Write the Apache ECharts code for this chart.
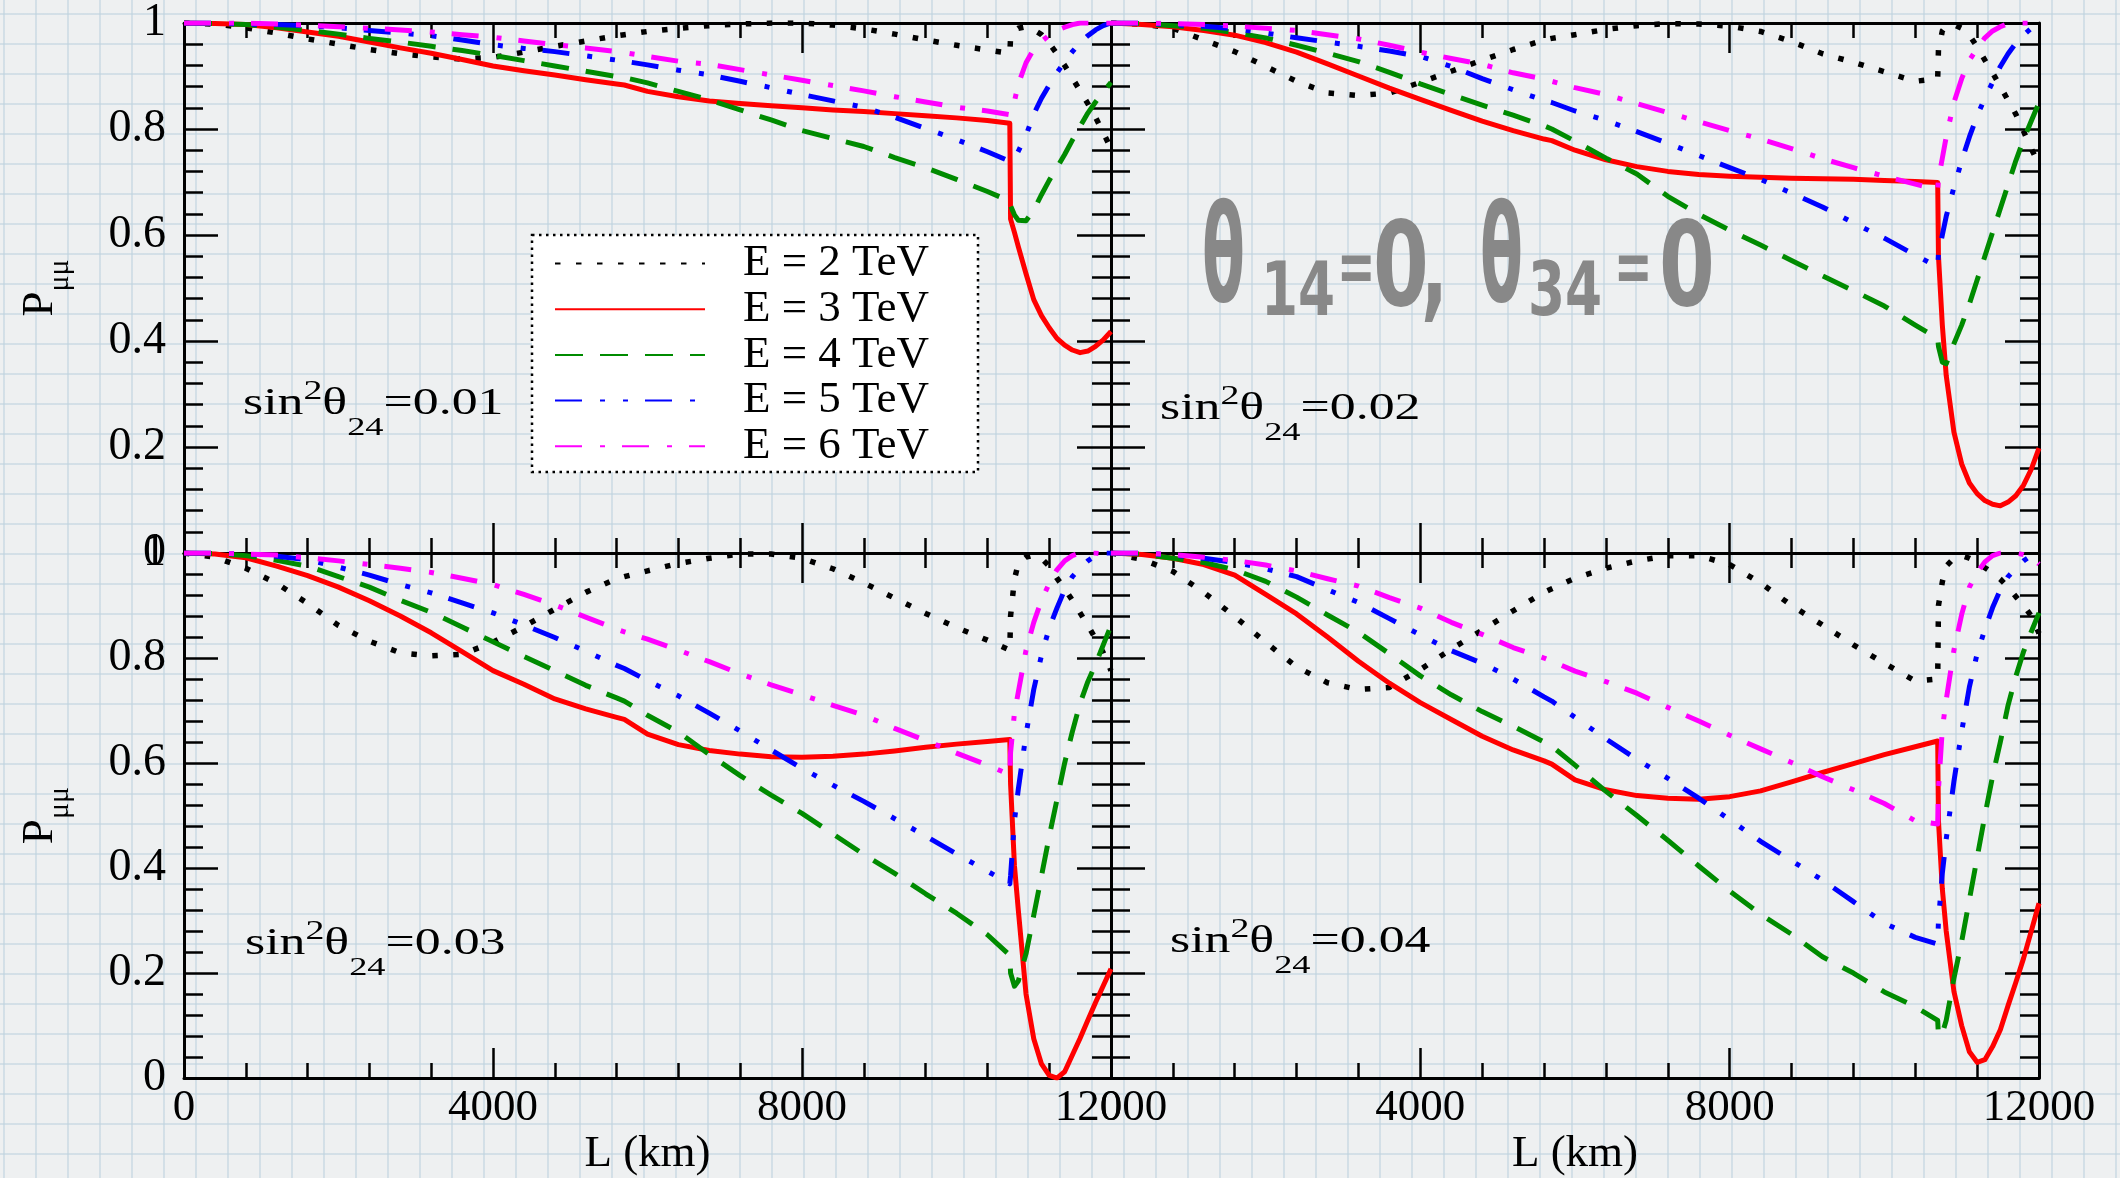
<!DOCTYPE html>
<html>
<head>
<meta charset="utf-8">
<script src="https://cdn.jsdelivr.net/npm/echarts@6/dist/echarts.min.js"></script>
<style>
html,body{margin:0;padding:0;}
body{width:2120px;height:1178px;overflow:hidden;background-color:#eef0f1;
background-image:linear-gradient(to bottom, rgba(190,210,222,0.55) 0, rgba(190,210,222,0.55) 2px, transparent 2px),
linear-gradient(to right, rgba(190,210,222,0.55) 0, rgba(190,210,222,0.55) 2px, transparent 2px);
background-size:32px 30px;background-position:3px 13px;}
#chart{width:2120px;height:1178px;}
</style>
</head>
<body>
<div id="chart"></div>
<script>
// ---------------- data ----------------
const L_KM = [0,400,800,1200,1600,2000,2400,2800,3200,3600,4000,4400,4800,5200,5600,5700,6000,6400,6800,7200,7600,8000,8400,8800,9200,9600,10000,10400,10690,10700,10750,10800,10900,11000,11100,11200,11300,11400,11500,11600,11700,11800,11900,12000];

const SERIES_NAMES = ['E = 2 TeV','E = 3 TeV','E = 4 TeV','E = 5 TeV','E = 6 TeV'];
const PANEL_SIN2 = ['0.01','0.02','0.03','0.04'];
const X_AXIS_TITLE = 'L (km)';
const Y_AXIS_TITLE = ['P','μμ'];
const NOTE_PARTS = ['θ','14','=','0',',','θ','34','=','0'];

// sin^2 theta24 = 0.01
const P_001_E2 = [1,0.998,0.991,0.981,0.970,0.960,0.950,0.942,0.936,0.932,0.935,0.945,0.956,0.966,0.976,0.978,0.984,0.990,0.995,0.998,1.0,1.0,0.996,0.989,0.979,0.968,0.958,0.949,0.943,0.972,0.985,0.990,0.993,0.987,0.978,0.962,0.942,0.920,0.896,0.872,0.848,0.822,0.793,0.763];
const P_001_E3 = [1,0.999,0.997,0.991,0.983,0.975,0.964,0.953,0.943,0.931,0.919,0.910,0.902,0.893,0.885,0.883,0.871,0.861,0.853,0.848,0.844,0.840,0.836,0.833,0.829,0.825,0.821,0.816,0.811,0.630,0.605,0.578,0.527,0.478,0.448,0.425,0.405,0.392,0.383,0.378,0.381,0.390,0.402,0.418];
const P_001_E4 = [1,0.999,0.997,0.992,0.986,0.979,0.971,0.964,0.956,0.948,0.939,0.929,0.919,0.909,0.899,0.897,0.887,0.871,0.855,0.836,0.817,0.797,0.782,0.767,0.746,0.727,0.705,0.682,0.664,0.655,0.638,0.628,0.627,0.647,0.676,0.703,0.727,0.752,0.779,0.805,0.830,0.851,0.870,0.888];
const P_001_E5 = [1,1,0.998,0.997,0.995,0.991,0.986,0.981,0.976,0.968,0.959,0.952,0.946,0.938,0.930,0.928,0.921,0.911,0.902,0.890,0.878,0.865,0.853,0.841,0.822,0.801,0.780,0.757,0.739,0.737,0.745,0.758,0.788,0.828,0.858,0.883,0.906,0.927,0.946,0.963,0.976,0.987,0.995,1.0];
const P_001_E6 = [1,1,1,0.998,0.996,0.993,0.990,0.987,0.983,0.978,0.973,0.966,0.959,0.953,0.946,0.944,0.937,0.928,0.922,0.912,0.902,0.892,0.882,0.872,0.861,0.851,0.841,0.834,0.827,0.830,0.852,0.885,0.925,0.951,0.965,0.977,0.986,0.992,0.997,1.0,1.0,1.0,1.0,1.0];

// sin^2 theta24 = 0.02
const P_002_E2 = [1,0.998,0.990,0.968,0.946,0.918,0.890,0.868,0.863,0.868,0.888,0.909,0.930,0.950,0.968,0.971,0.978,0.988,0.995,0.999,0.998,0.994,0.984,0.965,0.942,0.926,0.908,0.890,0.895,0.950,0.985,0.995,0.997,0.990,0.977,0.955,0.930,0.906,0.880,0.854,0.828,0.796,0.763,0.733];
const P_002_E3 = [1,0.997,0.993,0.986,0.977,0.963,0.945,0.923,0.900,0.877,0.856,0.835,0.815,0.797,0.781,0.778,0.760,0.742,0.729,0.720,0.714,0.711,0.709,0.707,0.706,0.705,0.703,0.701,0.699,0.560,0.430,0.335,0.228,0.168,0.132,0.112,0.099,0.092,0.089,0.096,0.108,0.128,0.158,0.198];
const P_002_E4 = [1,0.999,0.995,0.990,0.982,0.972,0.958,0.943,0.927,0.907,0.885,0.865,0.845,0.826,0.806,0.800,0.777,0.745,0.715,0.673,0.639,0.609,0.581,0.552,0.523,0.495,0.466,0.430,0.405,0.390,0.360,0.357,0.395,0.430,0.470,0.515,0.560,0.605,0.650,0.695,0.740,0.780,0.815,0.850];
const P_002_E5 = [1,1,0.997,0.994,0.989,0.981,0.972,0.964,0.956,0.947,0.937,0.918,0.895,0.874,0.854,0.850,0.834,0.816,0.795,0.773,0.750,0.727,0.705,0.679,0.653,0.623,0.594,0.562,0.540,0.565,0.600,0.635,0.690,0.740,0.785,0.825,0.858,0.888,0.918,0.942,0.962,0.977,0.990,1.0];
const P_002_E6 = [1,1,0.999,0.997,0.994,0.990,0.986,0.978,0.970,0.958,0.945,0.933,0.922,0.906,0.894,0.890,0.878,0.865,0.848,0.831,0.814,0.797,0.781,0.763,0.744,0.727,0.711,0.696,0.686,0.705,0.745,0.785,0.850,0.895,0.930,0.952,0.972,0.985,0.993,0.999,1.0,1.0,1.0,1.0];

// sin^2 theta24 = 0.03
const P_003_E2 = [1,0.992,0.971,0.942,0.904,0.862,0.832,0.810,0.804,0.807,0.830,0.860,0.893,0.925,0.951,0.955,0.966,0.980,0.990,0.998,0.998,0.990,0.970,0.943,0.914,0.885,0.858,0.834,0.815,0.880,0.950,0.980,0.992,0.996,0.990,0.975,0.952,0.932,0.910,0.886,0.862,0.837,0.810,0.776];
const P_003_E3 = [1,0.998,0.991,0.975,0.957,0.935,0.909,0.880,0.848,0.812,0.776,0.750,0.722,0.703,0.687,0.683,0.655,0.635,0.624,0.617,0.612,0.611,0.613,0.617,0.623,0.630,0.636,0.641,0.645,0.560,0.405,0.320,0.160,0.075,0.027,0.005,0.000,0.012,0.044,0.076,0.110,0.144,0.176,0.208];
const P_003_E4 = [1,0.999,0.995,0.986,0.975,0.955,0.935,0.910,0.887,0.859,0.831,0.803,0.776,0.748,0.724,0.718,0.691,0.659,0.616,0.576,0.539,0.504,0.465,0.426,0.390,0.351,0.314,0.273,0.234,0.200,0.175,0.185,0.237,0.310,0.385,0.460,0.530,0.600,0.660,0.714,0.755,0.788,0.825,0.862];
const P_003_E5 = [1,1,0.998,0.994,0.987,0.973,0.958,0.940,0.924,0.905,0.886,0.863,0.839,0.813,0.786,0.780,0.757,0.728,0.695,0.661,0.625,0.590,0.558,0.527,0.494,0.461,0.427,0.394,0.370,0.385,0.490,0.550,0.655,0.740,0.805,0.857,0.895,0.930,0.955,0.971,0.985,0.995,1.0,1.0];
const P_003_E6 = [1,1,0.998,0.996,0.991,0.985,0.978,0.971,0.963,0.952,0.940,0.921,0.901,0.878,0.855,0.850,0.836,0.815,0.793,0.770,0.749,0.730,0.710,0.691,0.666,0.643,0.619,0.596,0.578,0.620,0.695,0.735,0.815,0.868,0.910,0.942,0.968,0.985,0.995,1.0,1.0,1.0,0.998,0.995];

// sin^2 theta24 = 0.04
const P_004_E2 = [1,0.988,0.965,0.925,0.879,0.830,0.783,0.753,0.740,0.744,0.778,0.817,0.853,0.890,0.925,0.932,0.952,0.971,0.985,0.995,0.995,0.978,0.943,0.900,0.863,0.825,0.790,0.756,0.760,0.900,0.945,0.975,0.990,0.995,0.990,0.983,0.972,0.962,0.950,0.935,0.917,0.900,0.880,0.847];
const P_004_E3 = [1,0.997,0.990,0.978,0.958,0.921,0.884,0.840,0.794,0.752,0.715,0.683,0.651,0.625,0.604,0.598,0.568,0.549,0.538,0.533,0.531,0.536,0.547,0.564,0.582,0.599,0.616,0.631,0.642,0.490,0.360,0.280,0.165,0.100,0.050,0.030,0.035,0.060,0.092,0.138,0.182,0.228,0.280,0.333];
const P_004_E4 = [1,0.998,0.990,0.982,0.968,0.946,0.916,0.882,0.849,0.808,0.766,0.730,0.698,0.670,0.640,0.632,0.596,0.546,0.500,0.453,0.404,0.356,0.312,0.274,0.231,0.200,0.164,0.136,0.110,0.080,0.085,0.110,0.190,0.260,0.340,0.420,0.500,0.575,0.640,0.710,0.765,0.812,0.850,0.886];
const P_004_E5 = [1,1,0.996,0.990,0.982,0.970,0.955,0.930,0.906,0.875,0.844,0.814,0.790,0.760,0.726,0.718,0.687,0.646,0.607,0.571,0.533,0.492,0.451,0.414,0.377,0.336,0.295,0.268,0.255,0.300,0.390,0.455,0.565,0.660,0.745,0.808,0.855,0.896,0.930,0.955,0.971,0.985,0.995,1.0];
const P_004_E6 = [1,1,0.997,0.992,0.986,0.977,0.966,0.951,0.937,0.915,0.895,0.868,0.845,0.820,0.800,0.794,0.775,0.755,0.733,0.706,0.680,0.653,0.627,0.601,0.574,0.549,0.523,0.490,0.484,0.550,0.665,0.720,0.815,0.883,0.935,0.963,0.983,0.995,1.0,1.0,1.0,0.997,0.992,0.979];

const PANELS = [
  [P_001_E2,P_001_E3,P_001_E4,P_001_E5,P_001_E6],
  [P_002_E2,P_002_E3,P_002_E4,P_002_E5,P_002_E6],
  [P_003_E2,P_003_E3,P_003_E4,P_003_E5,P_003_E6],
  [P_004_E2,P_004_E3,P_004_E4,P_004_E5,P_004_E6]
];

// ---------------- styles & layout ----------------
const SERIF = '"Liberation Serif","Times New Roman",serif';
const LINE_STYLES = [
  {color:'#000000', width:5.5, type:[5.5,15.5]},
  {color:'#ff0000', width:5,   type:'solid'},
  {color:'#008b00', width:5,   type:[28,17]},
  {color:'#0000ff', width:5,   type:[27,18,5,18,5,17]},
  {color:'#ff00ff', width:5,   type:[27,18,5,17]}
];
const GRIDS = [
  {left:184,  top:23,  width:927, height:530},
  {left:1111, top:23,  width:928, height:530},
  {left:184,  top:553, width:927, height:529},
  {left:1111, top:553, width:928, height:529}
];
const NOTE_POS = [ {x:243,y:404}, {x:1160,y:409}, {x:245,y:944}, {x:1170,y:942} ];

const tickLine = {color:'#000', width:2.5};
const xAxes = [], yAxes = [];
GRIDS.forEach(function(g, gi){
  const bottomRow = gi >= 2, leftCol = gi % 2 === 0;
  ['bottom','top'].forEach(function(pos){
    const main = pos === 'bottom';
    xAxes.push({
      gridIndex: gi, type:'value', min:0, max:12000, interval:4000, position:pos,
      axisLine:{show:true, onZero:false, lineStyle:{color:'#000', width:3}},
      axisTick:{show:true, inside:true, length:30, lineStyle:tickLine},
      minorTick:{show:true, splitNumber:5, length:15, lineStyle:tickLine},
      splitLine:{show:false},
      axisLabel:{show: main && bottomRow, margin:8, color:'#000', fontFamily:SERIF, fontSize:45,
                 formatter:function(v){return String(v);}},
      name: (main && bottomRow) ? X_AXIS_TITLE : '',
      nameLocation:'middle', nameGap:51,
      nameTextStyle:{color:'#000', fontFamily:SERIF, fontSize:45}
    });
  });
  ['left','right'].forEach(function(pos){
    const main = pos === 'left';
    yAxes.push({
      gridIndex: gi, type:'value', min:0, max:1, interval:0.2, position:pos,
      axisLine:{show:true, onZero:false, lineStyle:{color:'#000', width:3}},
      axisTick:{show:true, inside:true, length:34, lineStyle:tickLine},
      minorTick:{show:true, splitNumber:5, length:19, lineStyle:tickLine},
      splitLine:{show:false},
      axisLabel:{show: main && leftCol, margin:18, color:'#000', fontFamily:SERIF, fontSize:46,
                 formatter:function(v){return String(Math.round(v*10)/10);}},
      name: (main && leftCol) ? '{p|' + Y_AXIS_TITLE[0] + '}{s|' + Y_AXIS_TITLE[1] + '}' : '',
      nameLocation:'middle', nameRotate:90, nameGap:109,
      nameTextStyle:{color:'#000', rich:{
        p:{fontFamily:SERIF, fontSize:45, color:'#000'},
        s:{fontFamily:SERIF, fontSize:30, color:'#000', padding:[40,0,0,0]}
      }}
    });
  });
});

const series = [];
PANELS.forEach(function(panel, gi){
  panel.forEach(function(vals, si){
    const st = LINE_STYLES[si];
    series.push({
      type:'line', name: SERIES_NAMES[si],
      xAxisIndex: 2*gi, yAxisIndex: 2*gi,
      data: L_KM.map(function(x, i){ return [x, vals[i]]; }),
      showSymbol:false, symbol:'none', smooth:false, clip:true,
      lineStyle:{color:st.color, width:st.width, type:st.type, cap:'butt', join:'round'},
      itemStyle:{color:st.color},
      z: 2 + si*0.01
    });
  });
});

const graphics = [];
// legend frame
graphics.push({type:'rect', z:5, shape:{x:532, y:235, width:446, height:237},
  style:{fill:'#ffffff', stroke:'#000', lineWidth:2.5, lineDash:[2.5,4.5]}});
// sin^2 theta_24 notes
PANEL_SIN2.forEach(function(v, i){
  graphics.push({type:'text', z:6, x:NOTE_POS[i].x, y:NOTE_POS[i].y, scaleX:1.4,
    style:{text:'{a|sin}{u|2}{a|θ}{d|24}{a|=' + v + '}', align:'left', verticalAlign:'middle',
      rich:{
        a:{fontFamily:SERIF, fontSize:37, fill:'#000'},
        u:{fontFamily:SERIF, fontSize:27, fill:'#000', padding:[0,0,24,0]},
        d:{fontFamily:SERIF, fontSize:26, fill:'#000', padding:[48,0,0,0]}
      }}});
});
// theta14 = 0, theta34 = 0 annotation
const NOTE_LAYOUT = [
  {x:1202, y:266, size:136, sx:0.46},
  {x:1261, y:296, size:74,  sx:0.72},
  {x:1337, y:273, size:74,  sx:0.62},
  {x:1373, y:274, size:118, sx:0.68},
  {x:1421, y:274, size:118, sx:0.6},
  {x:1480, y:266, size:136, sx:0.46},
  {x:1528, y:296, size:74,  sx:0.72},
  {x:1614, y:273, size:74,  sx:0.62},
  {x:1659, y:274, size:118, sx:0.68}
];
NOTE_PARTS.forEach(function(t, i){
  const p = NOTE_LAYOUT[i];
  graphics.push({type:'text', z:6, x:p.x, y:p.y, scaleX:p.sx,
    style:{text:t, font:'bold ' + p.size + 'px "DejaVu Sans", sans-serif', fill:'#888888',
      align:'left', verticalAlign:'middle'}});
});

const chart = echarts.init(document.getElementById('chart'), null, {renderer:'canvas'});
chart.setOption({
  animation:false,
  backgroundColor:'transparent',
  grid: GRIDS.map(function(g){ return Object.assign({containLabel:false}, g); }),
  xAxis: xAxes,
  yAxis: yAxes,
  legend:{
    orient:'vertical', left:554, top:241, padding:0, z:10,
    itemWidth:150, itemHeight:14, itemGap:0.7, selectedMode:false,
    itemStyle:{opacity:0},
    textStyle:{fontFamily:SERIF, fontSize:45, color:'#000', lineHeight:44, padding:[0,0,0,33]},
    data: SERIES_NAMES
  },
  graphic: graphics,
  series: series
});
</script>
</body>
</html>
